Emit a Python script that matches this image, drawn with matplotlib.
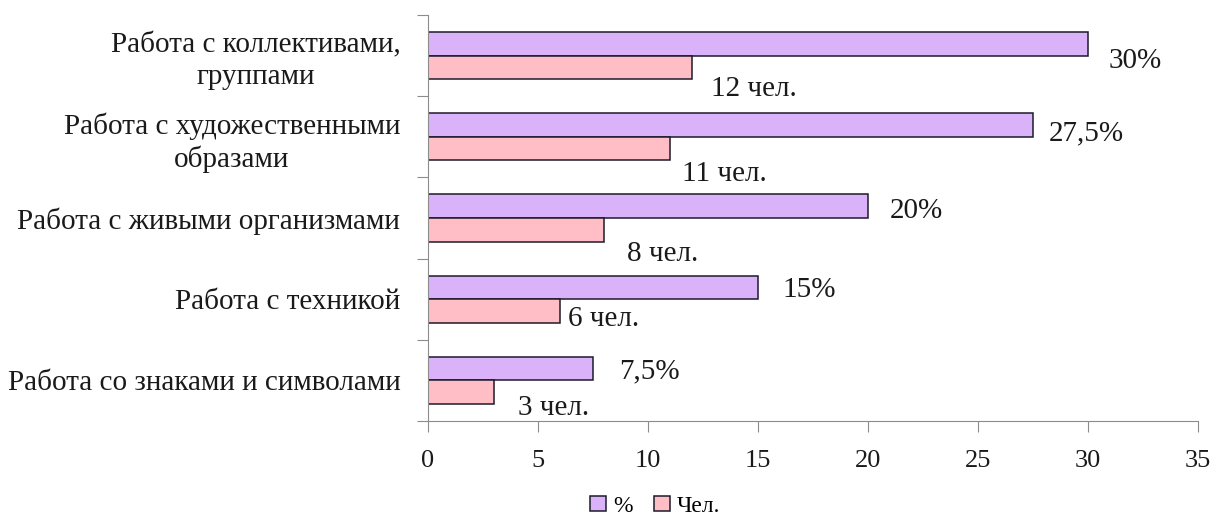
import numpy as np
import matplotlib.pyplot as plt

plt.rcParams['font.family'] = ['Liberation Serif', 'DejaVu Serif']

categories = ['Работа со знаками и символами', 'Работа с техникой',
              'Работа с живыми организмами', 'Работа с художественными\nобразами',
              'Работа с коллективами,\nгруппами']
percent = [7.5, 15, 20, 27.5, 30]
people = [3, 6, 8, 11, 12]
percent_labels = ['7,5%', '15%', '20%', '27,5%', '30%']
people_labels = ['3 чел.', '6 чел.', '8 чел.', '11 чел.', '12 чел.']

# label offsets (pixels) from bar end, as placed by hand in the original
pct_off = [(26, -3), (24, -3), (22, -5), (16, -8), (20, -17)]
ppl_off = [(24, -16), (8, -8), (23, -24), (12, -25), (19, -22)]

fig = plt.figure(figsize=(12.14, 5.2), dpi=100)
ax = fig.add_axes([0.3526, 0.1904, 0.6343, 0.7808])

y = np.arange(len(categories))
h = 0.29
ax.barh(y + h / 2, percent, height=h, color='#D9B2FA', edgecolor='#1c1a2a', linewidth=1.1, label='%')
ax.barh(y - h / 2, people, height=h, color='#FFBDC6', edgecolor='#1c1a2a', linewidth=1.1, label='Чел.')

for i in range(len(categories)):
    ax.annotate(percent_labels[i], (percent[i], y[i] + h / 2), xytext=pct_off[i],
                textcoords='offset pixels', fontsize=21, va='center', ha='left', color='#1a1a1a')
    ax.annotate(people_labels[i], (people[i], y[i] - h / 2), xytext=ppl_off[i],
                textcoords='offset pixels', fontsize=21, va='center', ha='left', color='#1a1a1a')

ax.set_xlim(0, 35)
ax.set_ylim(-0.5, len(categories) - 0.5)
ax.set_xticks(np.arange(0, 36, 5))
ax.set_yticks(np.arange(-0.5, len(categories), 1.0))
ax.set_yticklabels([])
ax.set_yticks(y, minor=True)
ax.set_yticklabels(categories, minor=True, fontsize=21, ha='right', multialignment='center',
                   linespacing=1.25, color='#1a1a1a')
ax.tick_params(axis='y', which='minor', length=0, pad=20)
ax.tick_params(axis='y', which='major', length=8, color='#8c8c8c')
ax.tick_params(axis='x', length=8, color='#8c8c8c', labelsize=19, pad=13, labelcolor='#1a1a1a')

for s in ['top', 'right']:
    ax.spines[s].set_visible(False)
for s in ['left', 'bottom']:
    ax.spines[s].set_color('#8c8c8c')

fig.legend(*ax.get_legend_handles_labels(), loc='center', bbox_to_anchor=(655 / 1214, 1 - 506 / 520),
           ncol=2, frameon=False, fontsize=17, handlelength=0.68, handleheight=0.62,
           handletextpad=0.3, columnspacing=0.9, borderpad=0)

fig.savefig('out.png', dpi=100)
